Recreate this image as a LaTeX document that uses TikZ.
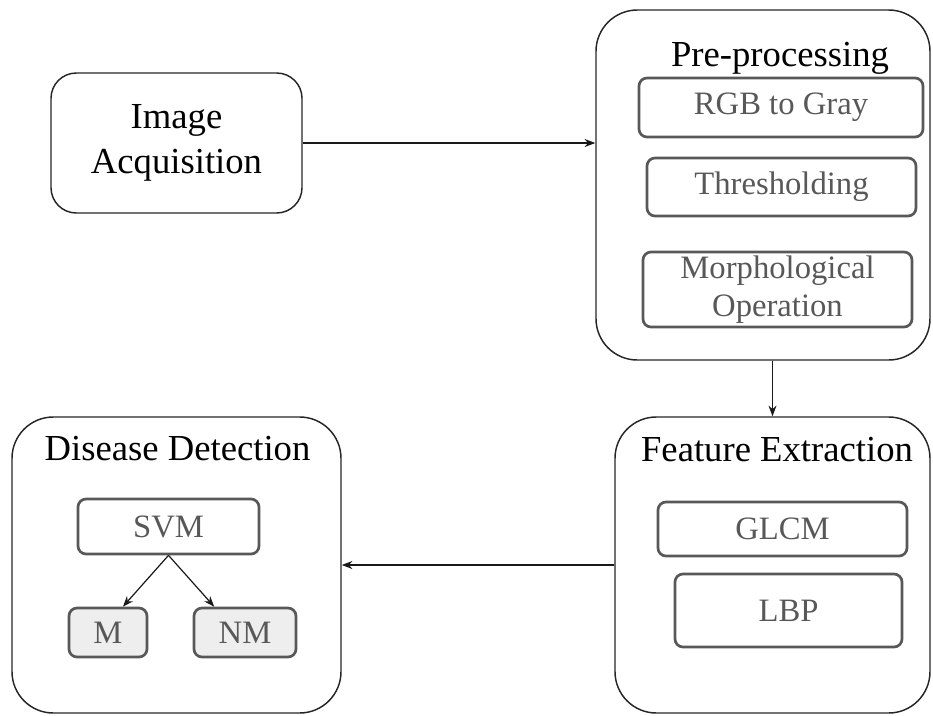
\documentclass[tikz,border=0pt]{standalone}
\usepackage{fontspec}
\setmainfont{Liberation Serif}
\usepackage{tikz}
\usetikzlibrary{arrows.meta}

\definecolor{boxgray}{RGB}{88,88,88}
\definecolor{leafgray}{RGB}{238,238,238}

\tikzset{
  stage/.style={draw=black!85, line width=1.1pt, rounded corners=31pt, inner sep=0pt},
  substep/.style={draw=boxgray, line width=2pt, rounded corners=6pt, inner sep=0pt, align=center,
    text=boxgray, font=\fontsize{24.5}{28.5}\selectfont},
  leaf/.style={substep, fill=leafgray},
  heading/.style={inner sep=0pt, font=\fontsize{27.5}{33}\selectfont},
  flow/.style={-{Stealth[length=8pt,width=6pt]}, line width=0.9pt, black!90},
}

\begin{document}
\begin{tikzpicture}[x=0.75pt,y=0.75pt,yscale=-1,xscale=1]
\useasboundingbox (0,0) rectangle (933,715);

%Shape: Image Acquisition
\node (acq) at (176.5,143) [stage, rounded corners=19pt, minimum width=188.25pt, minimum height=105pt,
  align=center, font=\fontsize{27.5}{33.5}\selectfont] {Image\\Acquisition};

%Shape: Pre-processing
\node (pre) at (763,185) [stage, minimum width=250.5pt, minimum height=262.5pt] {};
% Text Node
\node (pretitle) at (780,58) [heading] {Pre-processing};
\node (rgb) at (781,107.5) [substep, minimum width=213pt, minimum height=44.25pt] {RGB to Gray};
\node (thr) at (781.5,187) [substep, minimum width=201.75pt, minimum height=43.5pt] {Thresholding};
\node (mor) at (777.5,289.5) [substep, minimum width=201.75pt, minimum height=56.25pt] {Morphological\\Operation};

%Shape: Feature Extraction
\node (feat) at (772.5,565) [stage, minimum width=236.25pt, minimum height=222pt] {};
% Text Node
\node (feattitle) at (777,450) [heading] {Feature Extraction};
\node (glcm) at (782.5,529) [substep, minimum width=186.75pt, minimum height=40.5pt] {GLCM};
\node (lbp) at (788.5,610.5) [substep, minimum width=170.25pt, minimum height=54.75pt] {LBP};

%Shape: Disease Detection
\node (dis) at (176.5,565) [stage, minimum width=246.75pt, minimum height=222pt] {};
% Text Node
\node (distitle) at (177.5,449) [heading] {Disease Detection};
\node (svm) at (168.5,526.5) [substep, minimum width=135.75pt, minimum height=41.25pt] {SVM};
\node (m) at (108,632.5) [leaf, minimum width=58.5pt, minimum height=36.75pt] {M};
\node (nm) at (245,632.5) [leaf, minimum width=76.5pt, minimum height=36.75pt] {NM};

%Straight Lines
\draw [flow] (acq.east) -- (pre.west |- acq.east);
\draw [flow] (feat.north |- pre.south) -- (feat.north);
\draw [flow] (feat.west) -- (dis.east);
\draw [flow] (svm.south) -- (m.60);
\draw [flow] (svm.south) -- (nm.140);
\end{tikzpicture}
\end{document}
